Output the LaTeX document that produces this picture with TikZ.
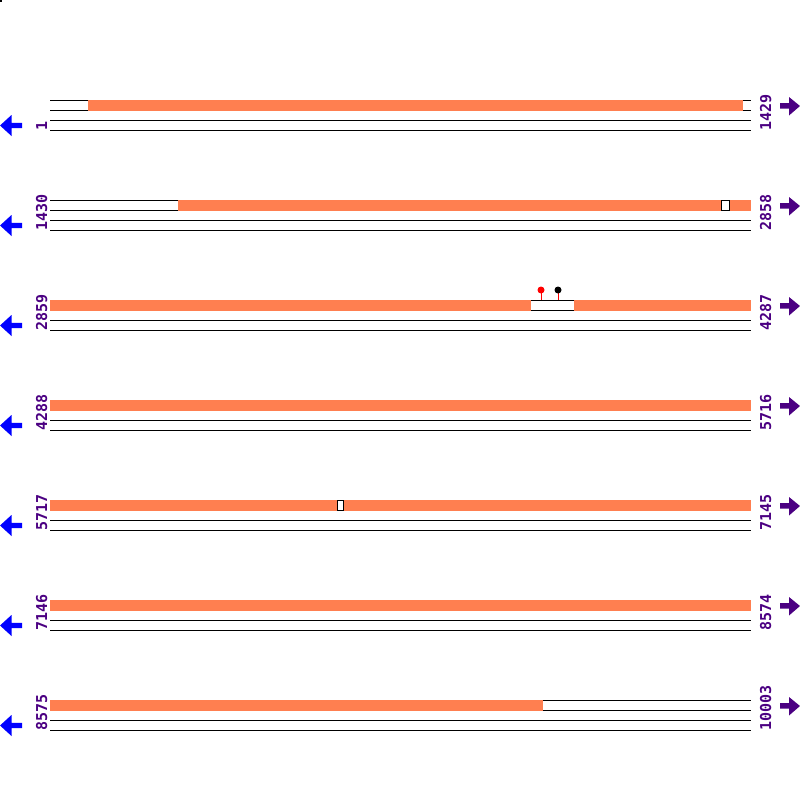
\documentclass[tikz,border=0pt]{standalone}
\usepackage{fontspec}
\setmainfont{DejaVu Sans}
\newfontfamily\numfont{DejaVu Sans Mono}
\definecolor{bar}{RGB}{255,127,80}
\definecolor{numc}{RGB}{75,0,130}
\definecolor{larr}{RGB}{0,0,255}
\begin{document}
\begin{tikzpicture}[x=1pt,y=-1pt,
  trk/.style={black,line width=1pt},
  seg/.style={fill=bar,draw=none},
  gapbox/.style={fill=white,draw=black,line width=0.8pt},
  num/.style={text=numc,font=\numfont\bfseries\fontsize{15}{16}\selectfont,rotate=90,anchor=base west,inner sep=0pt},
  leftarrow/.style={fill=larr,draw=none},
  rightarrow/.style={fill=numc,draw=none}]
\useasboundingbox (0,0) rectangle (800,800);
\fill[black] (0,0) rectangle (2,2);
% tracks
\foreach \k in {0,...,6}{
  \pgfmathsetmacro{\y}{100+100*\k}
  \draw[trk] (50,\y) -- (751,\y);
  \draw[trk] (50,\y+10) -- (751,\y+10);
  \draw[trk] (50,\y+20) -- (751,\y+20);
  \draw[trk] (50,\y+30) -- (751,\y+30);
  \fill[leftarrow] (0,\y+25.5) -- (11.5,\y+15) -- (11.5,\y+22.8) -- (22,\y+22.8) -- (22,\y+28.2) -- (11.5,\y+28.2) -- (11.5,\y+36) -- cycle;
  \fill[rightarrow] (800,\y+6) -- (789,\y-3) -- (789,\y+3) -- (780,\y+3) -- (780,\y+8.5) -- (789,\y+8.5) -- (789,\y+15.5) -- cycle;
}
% row 1
\fill[seg] (88,100) rectangle (743,110.5);
% row 2
\fill[seg] (178,200) rectangle (721,210.5);
\fill[seg] (729,200) rectangle (751,210.5);
\draw[gapbox] (721,200) rectangle (729,210);
% row 3
\fill[seg] (50,300) rectangle (531,310.5);
\fill[seg] (574,300) rectangle (751,310.5);
\draw[red,line width=1pt] (541,300) -- (541,290);
\draw[red,line width=1pt] (558,300) -- (558,290);
\fill[red] (541,290) circle (3.5);
\fill[black] (558,290) circle (3.5);
% row 4
\fill[seg] (50,400) rectangle (751,410.5);
% row 5
\fill[seg] (50,500) rectangle (337,510.5);
\fill[seg] (343,500) rectangle (751,510.5);
\draw[gapbox] (337,500) rectangle (343,510);
% row 6
\fill[seg] (50,600) rectangle (751,610.5);
% row 7
\fill[seg] (50,700) rectangle (543,710.5);
% numbers
\node[num] (l1) at (47,131) {1};
\node[num] (r1) at (771,131) {1429};
\node[num] (l2) at (47,231) {1430};
\node[num] (r2) at (771,231) {2858};
\node[num] (l3) at (47,331) {2859};
\node[num] (r3) at (771,331) {4287};
\node[num] (l4) at (47,431) {4288};
\node[num] (r4) at (771,431) {5716};
\node[num] (l5) at (47,531) {5717};
\node[num] (r5) at (771,531) {7145};
\node[num] (l6) at (47,631) {7146};
\node[num] (r6) at (771,631) {8574};
\node[num] (l7) at (47,731) {8575};
\node[num] (r7) at (771,731) {10003};
\end{tikzpicture}
\end{document}
